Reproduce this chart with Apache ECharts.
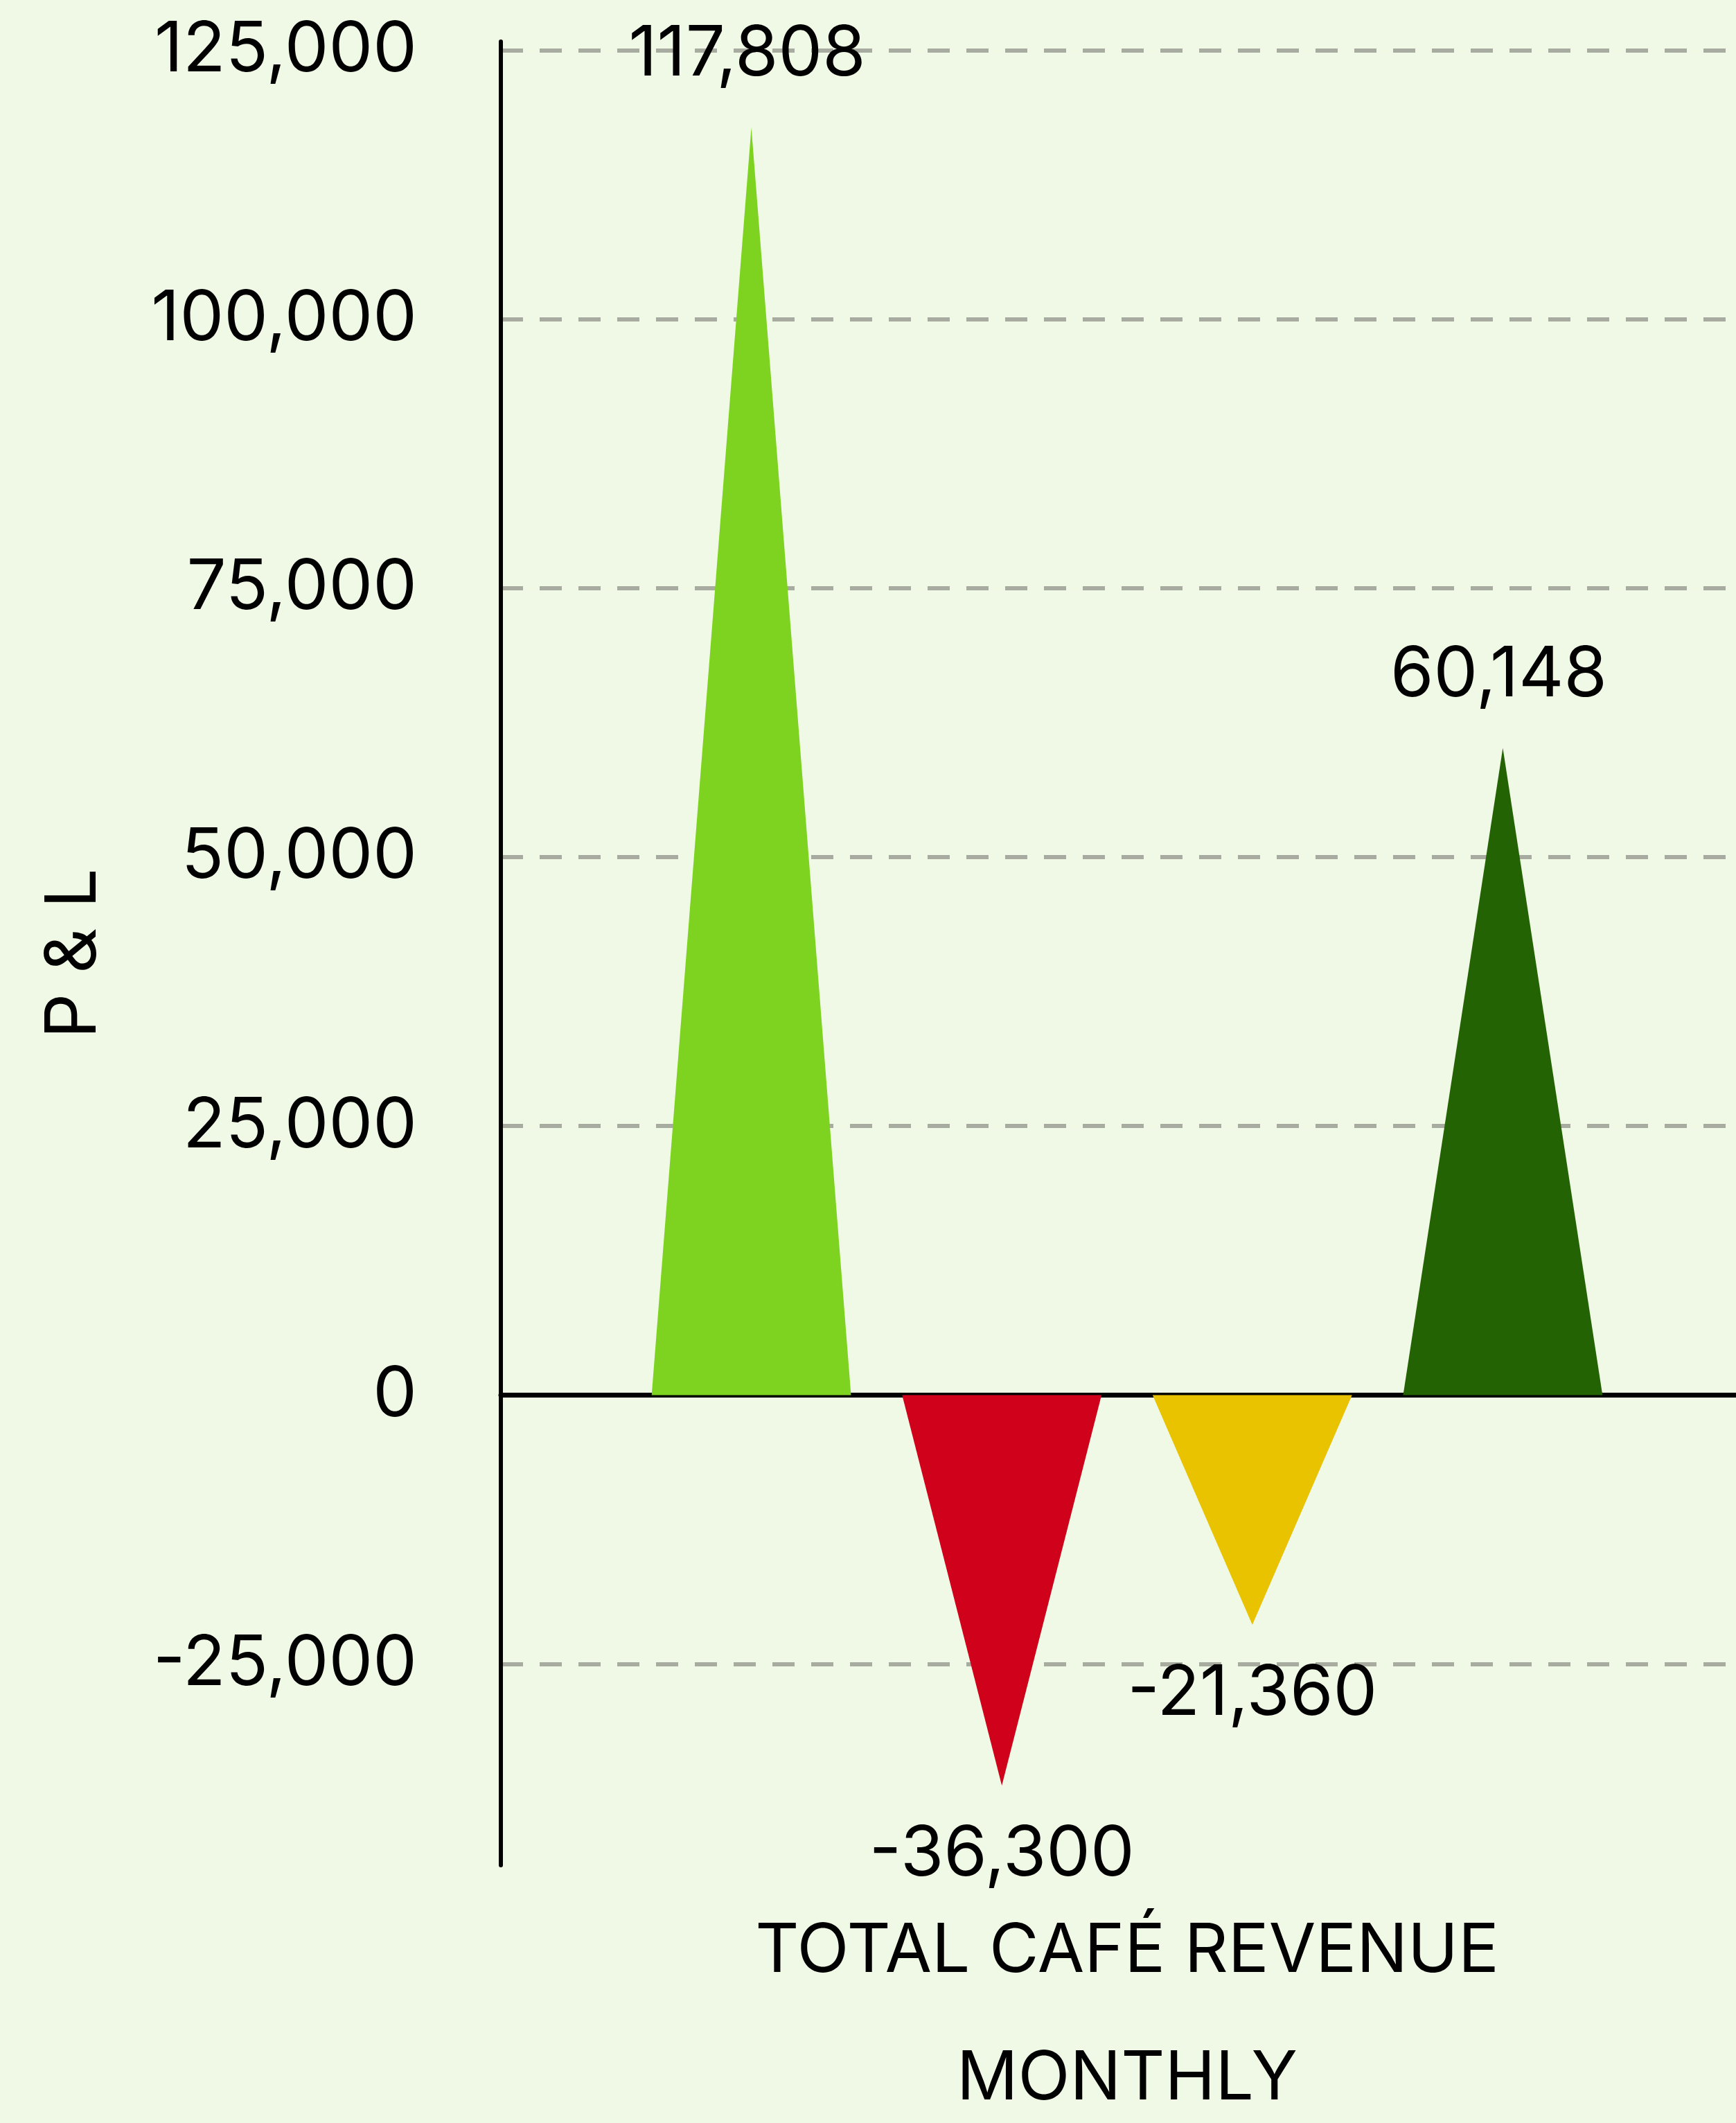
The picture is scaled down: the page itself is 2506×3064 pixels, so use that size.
<!DOCTYPE html>
<html>
<head>
<meta charset="utf-8">
<script src="https://cdn.jsdelivr.net/npm/echarts@6/dist/echarts.min.js"></script>
<style>
  html, body { margin: 0; padding: 0; background: #F0F8E6; }
  #chart { width: 2506px; height: 3064px; }
</style>
</head>
<body>
<div id="chart"></div>
<script>
// Data
const slots = [1, 2, 3, 4];                      // category slot positions along the x axis
const values = [117808, -36300, -21360, 60148];  // P & L values
const barColors = ['#7ED321', '#D0021B', '#E9C300', '#246304'];
const yTicks = [-25000, 0, 25000, 50000, 75000, 100000, 125000];
const xTitle = 'TOTAL CAFÉ REVENUE';
const xSubtitle = 'MONTHLY';
const yTitle = 'P & L';

const FONT = 'Inter, "Noto Sans", sans-serif';
const fmt = v => Math.round(v).toLocaleString('en-US');

const chart = echarts.init(document.getElementById('chart'), null, { renderer: 'canvas' });

const option = {
  backgroundColor: '#F0F8E6',
  animation: false,
  grid: { left: 723, right: -25, top: 60, bottom: 372, containLabel: false, outerBoundsMode: 'none' },
  xAxis: [
    {
      type: 'value', min: 0, max: 5,
      axisLine: { show: true, onZero: true, lineStyle: { color: '#000', width: 7 } },
      axisTick: { show: false }, axisLabel: { show: false }, splitLine: { show: false }
    },
    {
      type: 'value', min: 0, max: 5, position: 'bottom',
      axisLine: { show: false, onZero: false }, axisTick: { show: false },
      axisLabel: { show: false }, splitLine: { show: false },
      name: xTitle + '\n' + xSubtitle,
      nameLocation: 'middle', nameGap: 33,
      nameTextStyle: { fontFamily: FONT, fontSize: 98, color: '#000', lineHeight: 184, verticalAlign: 'top' }
    }
  ],
  yAxis: {
    type: 'value', min: -43700, max: 125800,
    minInterval: 25000, maxInterval: 25000,
    axisLine: { show: true, onZero: false, lineStyle: { color: '#000', width: 6 } },
    axisTick: { show: false },
    axisLabel: {
      showMinLabel: false, showMaxLabel: false,
      margin: 121, fontFamily: FONT, fontSize: 101, color: '#000',
      formatter: v => yTicks.indexOf(v) >= 0 ? fmt(v) : ''
    },
    splitLine: {
      show: true, showMinLine: false, showMaxLine: false,
      lineStyle: { color: '#A8ABA0', width: 6, type: [32, 24] }
    },
    name: yTitle, nameLocation: 'middle', nameGap: 565,
    nameTextStyle: { fontFamily: FONT, fontSize: 102, color: '#000' }
  },
  series: [{
    type: 'custom',
    xAxisIndex: 0, yAxisIndex: 0,
    data: slots.map((s, i) => [s, values[i]]),
    renderItem: function (params, api) {
      const x = api.value(0), v = api.value(1);
      const tip = api.coord([x, v]);
      const base = api.coord([x, 0]);
      const half = api.size([1, 0])[0] * 0.398;
      return {
        type: 'group',
        children: [
          {
            type: 'polygon',
            shape: { points: [[base[0] - half, base[1]], [base[0] + half, base[1]], [tip[0], tip[1]]] },
            style: { fill: barColors[params.dataIndex] }
          },
          {
            type: 'text',
            style: {
              text: fmt(v), x: tip[0] - (v >= 0 ? 6 : 0), y: tip[1] + (v >= 0 ? -105 : 100),
              align: 'center', verticalAlign: 'middle',
              fontFamily: FONT, fontSize: 101, fill: '#000'
            }
          }
        ]
      };
    }
  }]
};
chart.setOption(option);
</script>
</body>
</html>
